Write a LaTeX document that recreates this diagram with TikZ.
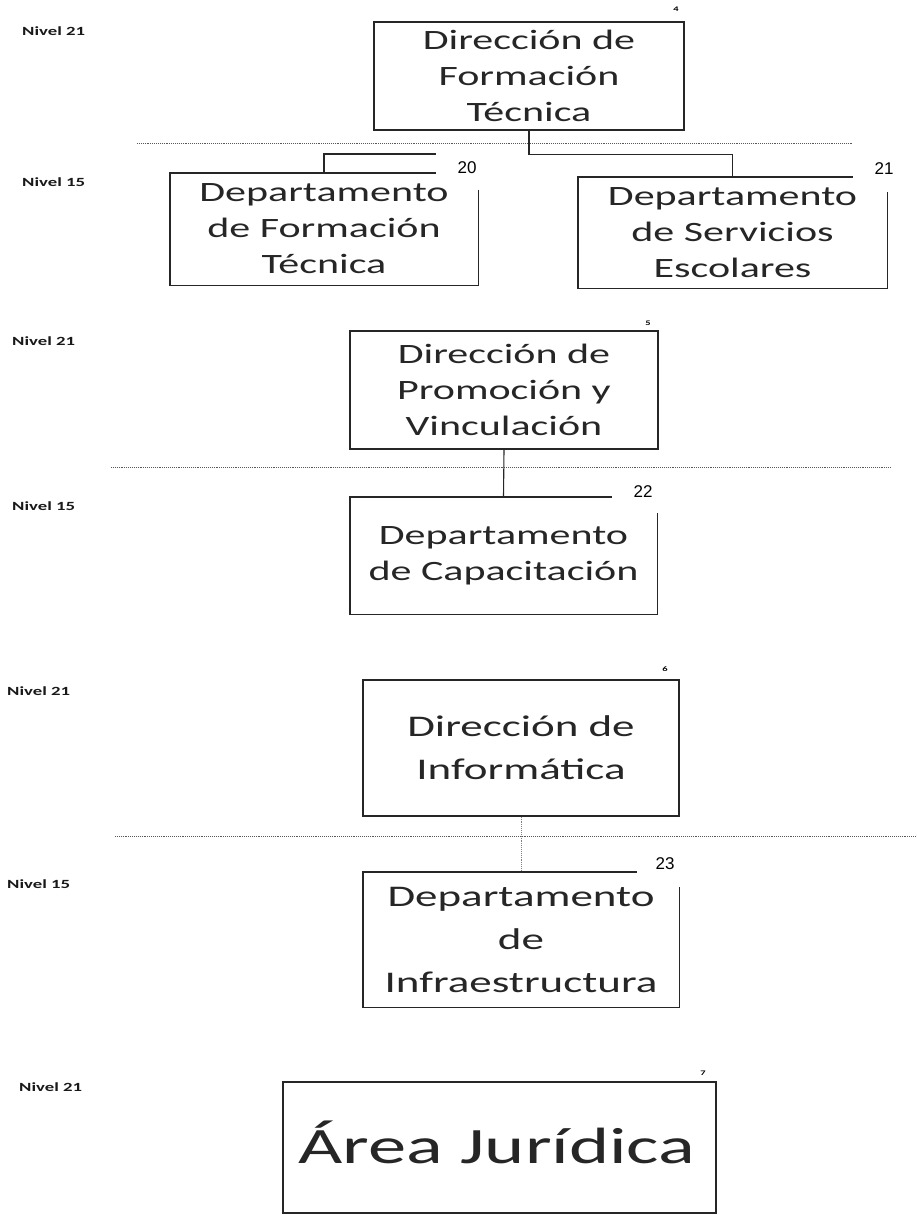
\documentclass[tikz,border=0pt]{standalone}
\usepackage{fontspec}
\setmainfont{Carlito}[FakeStretch=1.5]
\newfontfamily\numfont{Liberation Sans}
\begin{document}
\begin{tikzpicture}[x=1pt,y=-1pt,
  boxlinestyle/.style={line width=1.4pt,black!85},
  orgbox/.style={inner sep=0pt,align=center,text=black!85,font=\fontsize{28}{36}\selectfont},
  conn/.style={line width=1.1pt,black!85},
  conngray/.style={line width=0.9pt,black!50,densely dotted},
  levelline/.style={line width=0.9pt,black!65,densely dotted},
  nivel/.style={anchor=west,inner sep=0pt,text=black!90,font=\bfseries\fontsize{12.5}{14}\selectfont},
  numbig/.style={inner sep=0pt,text=black,font=\numfont\fontsize{17}{19}\selectfont},
  numsmall/.style={inner sep=0pt,text=black,font=\bfseries\fontsize{7}{8}\selectfont}]
\useasboundingbox (0,0) rectangle (916,1215);
\fill[white] (0,0) rectangle (916,1215);

% level labels
\node[nivel] (l1) at (22,31) {Nivel 21};
\node[nivel] (l2) at (22,182) {Nivel 15};
\node[nivel] (l3) at (12,341) {Nivel 21};
\node[nivel] (l4) at (12,506) {Nivel 15};
\node[nivel] (l5) at (7,691) {Nivel 21};
\node[nivel] (l6) at (7,884) {Nivel 15};
\node[nivel] (l7) at (19,1087) {Nivel 21};

% level separator lines
\draw[levelline] (137,143) -- (853,143);
\draw[levelline] (111,467) -- (891,467);
\draw[levelline] (115,836) -- (916,836);

% group 1
\node[orgbox,draw,boxlinestyle,text=black!85,minimum width=310pt,minimum height=108pt] (b1) at (529,76) {Dirección de\\Formación\\Técnica};
\node[numsmall] (n4) at (676,9) {4};
\node[orgbox,minimum width=308pt,minimum height=112pt] (d20) at (324,229) {Departamento\\de Formación\\Técnica};
\draw[boxlinestyle] ([xshift=266pt]d20.north west) -- (d20.north west) -- (d20.south west) -- (d20.south east) -- ([yshift=-17pt]d20.north east);
\node[numbig] (n20) at (467,168) {20};
\node[orgbox,minimum width=309pt,minimum height=111pt] (d21) at (732.5,232.5) {Departamento\\de Servicios\\Escolares};
\draw[boxlinestyle] ([xshift=275pt]d21.north west) -- (d21.north west) -- (d21.south west) -- (d21.south east) -- ([yshift=-15pt]d21.north east);
\node[numbig] (n21) at (884,169) {21};
\coordinate (gapL) at (436,154);
\draw[conn] (b1.south) -- ++(0,24) -| (d21.north);
\draw[conn] (d20.north) |- (gapL);

% group 2
\node[orgbox,draw,boxlinestyle,text=black!85,minimum width=308pt,minimum height=118pt] (b2) at (504,390) {Dirección de\\Promoción y\\Vinculación};
\node[numsmall] (n5) at (648,323) {5};
\node[orgbox,minimum width=307pt,minimum height=117pt] (d22) at (503.5,555.5) {Departamento\\de Capacitación};
\draw[boxlinestyle] ([xshift=262pt]d22.north west) -- (d22.north west) -- (d22.south west) -- (d22.south east) -- ([yshift=-16pt]d22.north east);
\node[numbig] (n22) at (643,492) {22};
\draw[conn] (b2.south) -- (d22.north);

% group 3
\node[orgbox,draw,boxlinestyle,text=black!85,minimum width=316pt,minimum height=136pt,font=\fontsize{30}{43}\selectfont] (b3) at (521,748) {Dirección de\\Informática};
\node[numsmall] (n6) at (665,669) {6};
\node[orgbox,minimum width=316pt,minimum height=135pt,font=\fontsize{30}{43}\selectfont] (d23) at (521,939.5) {Departamento\\de\\Infraestructura};
\draw[boxlinestyle] ([xshift=274pt]d23.north west) -- (d23.north west) -- (d23.south west) -- (d23.south east) -- ([yshift=-15pt]d23.north east);
\node[numbig] (n23) at (665,864) {23};
\draw[conngray] (b3.south) -- (d23.north);

% group 4
\node[draw,boxlinestyle,minimum width=433pt,minimum height=131pt,inner sep=0pt] (b4) at (499.5,1147.5) {};
\node[orgbox,font=\fontsize{51}{58}\selectfont] (t4) at (497,1142) {Área Jurídica};
\node[numsmall] (n7) at (703,1073) {7};
\end{tikzpicture}
\end{document}
